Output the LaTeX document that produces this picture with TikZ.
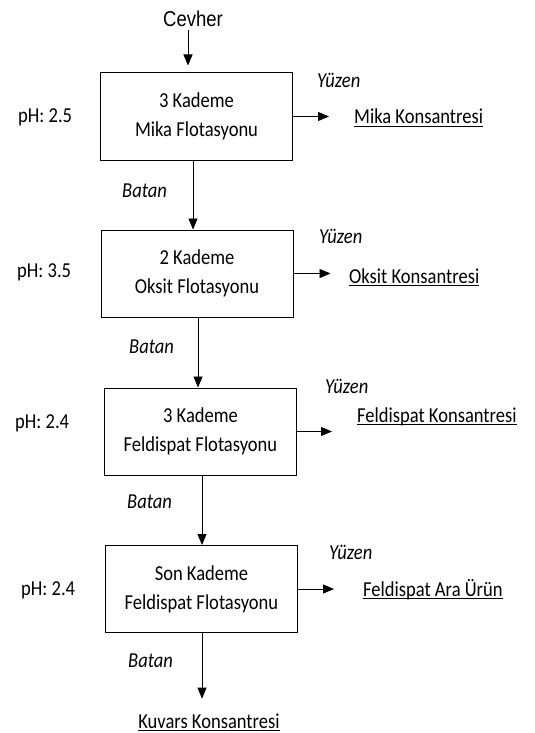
\documentclass[tikz,border=0pt]{standalone}
\usepackage{fontspec}
\setmainfont[FakeStretch=0.87]{Carlito}
\newfontfamily\arialfont[FakeStretch=0.86]{Liberation Sans}
\usetikzlibrary{arrows.meta,positioning}
% underline at a fixed depth below the baseline
\newcommand\produl[1]{\leavevmode\setbox0\hbox{#1}\rlap{\vrule height -2.3pt depth 3.3pt width \wd0}\box0}

\begin{document}
\begin{tikzpicture}[x=1pt,y=-1pt,
  font=\fontsize{21.3}{29}\selectfont,
  every node/.style={inner sep=0pt},
  stage/.style={draw,line width=1pt,minimum width=192pt,minimum height=87pt,align=center},
  flow/.style={-{Triangle[length=11pt,width=9pt]},line width=0.85pt},
  lbl/.style={anchor=base west},
  side/.style={anchor=base west,font=\fontsize{21.3}{24}\selectfont\itshape},
  ]
\useasboundingbox (0,0) rectangle (535,733);
% feed
\node[anchor=base,font=\arialfont\fontsize{21.5}{24}\selectfont] (cevher) at (193,27) {Cevher};
% flotation stages
\node[stage] (b1) at (196.5,116.5) {3 Kademe\\Mika Flotasyonu};
\node[stage] (b2) at (197,273.5) {2 Kademe\\Oksit Flotasyonu};
\node[stage] (b3) at (200.5,431.5) {3 Kademe\\Feldispat Flotasyonu};
\node[stage] (b4) at (201.5,589) {Son Kademe\\Feldispat Flotasyonu};
% pH values
\node[lbl] (ph1) at (18,122) {pH: 2.5};
\node[lbl] (ph2) at (17,277) {pH: 3.5};
\node[lbl] (ph3) at (15,428) {pH: 2.4};
\node[lbl] (ph4) at (21,595) {pH: 2.4};
% floats
\node[side] (yz1) at (317,88) {Yüzen};
\node[side] (yz2) at (319,243) {Yüzen};
\node[side] (yz3) at (325,393) {Yüzen};
\node[side] (yz4) at (329,559) {Yüzen};
% sinks
\node[side] (bt1) at (122,197) {Batan};
\node[side] (bt2) at (129,353) {Batan};
\node[side] (bt3) at (127,508) {Batan};
\node[side] (bt4) at (128,667) {Batan};
% products
\node[lbl] (p1) at (354,124) {\produl{Mika Konsantresi}};
\node[lbl] (p2) at (349,283) {\produl{Oksit Konsantresi}};
\node[lbl] (p3) at (357,422) {\produl{Feldispat Konsantresi}};
\node[lbl] (p4) at (363,596) {\produl{Feldispat Ara Ürün}};
\node[anchor=base] (kuvars) at (209,728) {\produl{Kuvars Konsantresi}};
% connectors
\coordinate (c0) at ([xshift=-5pt,yshift=-3pt]cevher.south);
\coordinate (k0) at ([yshift=14.5pt]kuvars.north);
\coordinate (s1) at ([xshift=-3.5pt]b1.south);
\coordinate (s2) at ([xshift=1pt]b2.south);
\coordinate (s3) at ([xshift=1.5pt]b3.south);
\coordinate (s4) at ([xshift=0.5pt]b4.south);
\draw[flow,shorten >=7pt] (c0) -- (c0 |- b1.north);
\draw[flow] (s1) -- (s1 |- b2.north);
\draw[flow] (s2) -- (s2 |- b3.north);
\draw[flow] (s3) -- (s3 |- b4.north);
\draw[flow] (s4) -- (s4 |- k0);
\coordinate[right=36pt of b1.east] (f1);
\coordinate[right=37pt of b2.east] (f2);
\coordinate[right=35pt of b3.east] (f3);
\coordinate[right=36pt of b4.east] (f4);
\draw[flow] (b1.east) -- (f1);
\draw[flow] (b2.east) -- (f2);
\draw[flow] (b3.east) -- (f3);
\draw[flow] (b4.east) -- (f4);
\end{tikzpicture}
\end{document}
